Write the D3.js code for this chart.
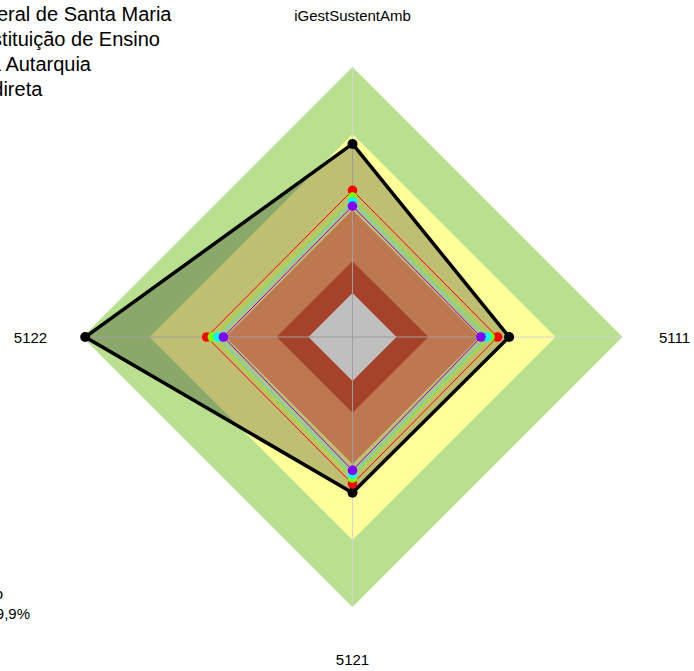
<!DOCTYPE html>
<html>
<head>
<meta charset="utf-8">
<script src="https://cdn.jsdelivr.net/npm/d3@7"></script>
<style>
  html, body { margin: 0; padding: 0; background: #ffffff; }
  svg { display: block; font-family: "Liberation Sans", Arial, sans-serif; }
</style>
</head>
<body>
<svg id="chart" width="694" height="671"></svg>
<script>
// Radar axes, clockwise from the top
const axes = ["iGestSustentAmb", "5111", "5121", "5122"];

// Background rating bands (outer limit of each band, as a share of the full scale)
const bandLimits = [1.0, 0.752, 0.47, 0.281, 0.163];
const bandColors = ["#b9e08e", "#ffff99", "#fda06b", "#dc5838", "#ffffff"];

// Indicator values per series, in axis order
const seriesNames = ["Órgão", "Grupo A", "Grupo B", "Grupo C", "Grupo D"];
const seriesColors = ["#000000", "#ff0000", "#80ff00", "#00ffff", "#8000ff"];
const valuesOrgao  = [0.715, 0.580, 0.577, 0.990];
const valuesGrupoA = [0.543, 0.537, 0.544, 0.540];
const valuesGrupoB = [0.518, 0.509, 0.522, 0.519];
const valuesGrupoC = [0.501, 0.497, 0.508, 0.499];
const valuesGrupoD = [0.485, 0.476, 0.494, 0.478];
const seriesValues = [valuesOrgao, valuesGrupoA, valuesGrupoB, valuesGrupoC, valuesGrupoD];

// Header and footer text
const headerLines = ["Universidade Federal de Santa Maria", "Tipo: Instituição de Ensino", "Natureza Jurídica Autarquia", "Administração Indireta"];
const footerLines = ["Desempenho", "Média geral: 49,9%"];

const svg = d3.select("#chart");
const cx = 352.5, cy = 337;
const r = d3.scaleLinear().domain([0, 1]).range([0, 270]);
const angle = d3.scalePoint().domain(axes).range([0, 1.5 * Math.PI]);

const g = svg.append("g").attr("transform", `translate(${cx},${cy})`);

const radial = d3.lineRadial()
  .angle(d => angle(d.axis))
  .radius(d => r(d.value))
  .curve(d3.curveLinearClosed);

// Bands, drawn from the largest inward
bandLimits.forEach((lim, i) => {
  g.append("path")
    .attr("d", radial(axes.map(a => ({ axis: a, value: lim }))))
    .attr("fill", bandColors[i]);
});

// Axis spokes
axes.forEach(a => {
  const end = d3.pointRadial(angle(a), r(1));
  g.append("line")
    .attr("x1", 0).attr("y1", 0)
    .attr("x2", end[0]).attr("y2", end[1])
    .attr("stroke", "#d4d4d4")
    .attr("stroke-width", 1);
});

// Series polygons and points
seriesValues.forEach((vals, si) => {
  const pts = axes.map((a, i) => ({ axis: a, value: vals[i] }));
  const main = si === 0;
  g.append("path")
    .attr("d", radial(pts))
    .attr("fill", main ? "#000000" : "none")
    .attr("fill-opacity", main ? 0.25 : 0)
    .attr("stroke", seriesColors[si])
    .attr("stroke-width", main ? 3.5 : 1)
    .attr("stroke-linejoin", "miter");
  g.selectAll(null)
    .data(pts)
    .enter()
    .append("circle")
    .attr("cx", d => d3.pointRadial(angle(d.axis), r(d.value))[0])
    .attr("cy", d => d3.pointRadial(angle(d.axis), r(d.value))[1])
    .attr("r", main ? 5 : 4.8)
    .attr("fill", seriesColors[si]);
});

// Axis labels
axes.forEach(a => {
  const p = d3.pointRadial(angle(a), 322);
  g.append("text")
    .attr("x", p[0]).attr("y", p[1])
    .attr("text-anchor", "middle")
    .attr("dominant-baseline", "central")
    .attr("font-size", 15)
    .attr("fill", "#000")
    .text(a);
});

// Header block
const headerRight = [171.5, 160, 91, 42.3];
headerLines.forEach((t, i) => {
  svg.append("text")
    .attr("x", headerRight[i])
    .attr("y", 21 + i * 25)
    .attr("text-anchor", "end")
    .attr("font-size", 20)
    .attr("fill", "#000")
    .text(t);
});

// Footer block
const footerRight = [3, 30];
footerLines.forEach((t, i) => {
  svg.append("text")
    .attr("x", footerRight[i])
    .attr("y", 599 + i * 20)
    .attr("text-anchor", "end")
    .attr("font-size", 15)
    .attr("fill", "#000")
    .text(t);
});
</script>
</body>
</html>
